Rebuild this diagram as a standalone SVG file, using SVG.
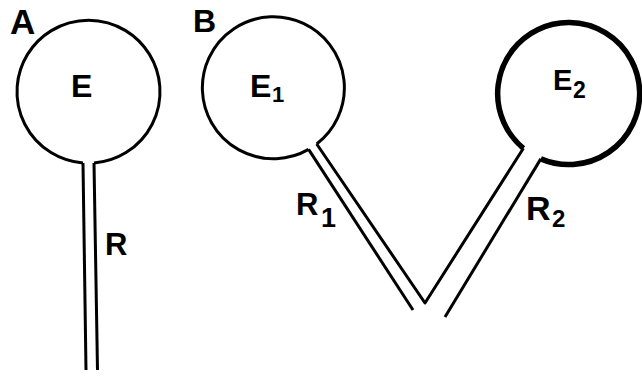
<svg xmlns="http://www.w3.org/2000/svg" width="642" height="376" viewBox="0 0 642 376">
<style>
  .ln { fill: none; stroke: #000; stroke-width: 3; stroke-linejoin: round; stroke-linecap: butt; }
  .thick { stroke-width: 5.5; }
  .lbl { font-family: "Liberation Sans", Arial, sans-serif; font-weight: bold; fill: #000; }
</style>
<rect width="642" height="376" fill="#fff"/>
<text class="lbl" x="10" y="34" font-size="35">A</text>
<text class="lbl" x="193" y="32" font-size="32">B</text>
<g id="nodeE">
  <path class="ln" d="M 83 163 A 71.5 71.5 0 1 1 94 163"/>
  <text class="lbl" x="71" y="97" font-size="32">E</text>
</g>
<g id="nodeE1">
  <path class="ln" d="M 308.6 149.4 A 71 71 0 1 1 316.7 144"/>
  <text class="lbl" x="250" y="97" font-size="32">E</text>
  <text class="lbl" x="272" y="102" font-size="22">1</text>
</g>
<g id="nodeE2">
  <path class="ln thick" d="M 523.4 148.3 A 71 71 0 1 1 540.8 158.9"/>
  <text class="lbl" x="553" y="90" font-size="29">E</text>
  <text class="lbl" x="573" y="98" font-size="23">2</text>
</g>
<g id="connectors">
  <path class="ln" stroke-width="2.7" d="M 83 163 L 86 370"/>
  <path class="ln" stroke-width="2.7" d="M 94 163 L 97.5 370"/>
  <path class="ln" d="M 308.6 149.4 L 413 310"/>
  <path class="ln" stroke-width="3.5" d="M 316.7 144 L 425 303 L 523.4 148.3"/>
  <path class="ln" stroke-width="3.5" d="M 540.8 158.9 L 445 317"/>
</g>
<g id="labels">
  <text class="lbl" x="105" y="255" font-size="31">R</text>
  <text class="lbl" x="296" y="215" font-size="31">R</text>
  <text class="lbl" x="321" y="227" font-size="27">1</text>
  <text class="lbl" x="526" y="220" font-size="34">R</text>
  <text class="lbl" x="552" y="227" font-size="24">2</text>
</g>
</svg>
